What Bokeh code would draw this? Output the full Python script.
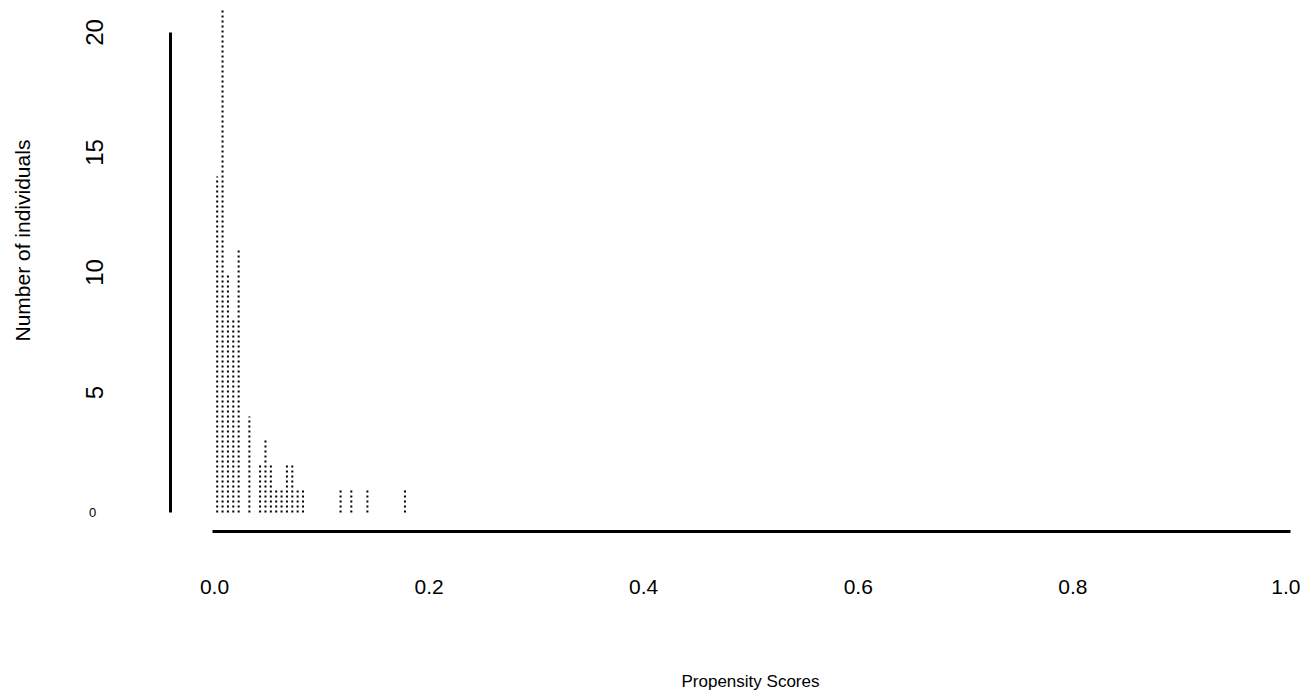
import math
from bokeh.plotting import figure
from bokeh.models import ColumnDataSource, FixedTicker, PrintfTickFormatter, Range1d, Title
from bokeh.core.properties import value
from bokeh.embed import file_html
from bokeh.resources import INLINE

# ---- data ----
bin_centers = [0.0025, 0.0075, 0.0125, 0.0175, 0.0225, 0.0325,
               0.0425, 0.0475, 0.0525, 0.0575, 0.0625, 0.0675, 0.0725, 0.0775, 0.0825,
               0.1175, 0.1275, 0.1425, 0.1775]
counts = [14, 21, 10, 8, 11, 4,
          2, 3, 2, 1, 1, 2, 2, 1, 1,
          1, 1, 1, 1]
x_ticks = [0.0, 0.2, 0.4, 0.6, 0.8, 1.0]
y_ticks = [5, 10, 15, 20]
y_zero = [0]
x_title = "Propensity  Scores"
y_title = "Number of individuals"

FONT = "Liberation Sans"

# layout constants (in data units of the plot frame)
Y_AXIS_X = -0.041        # where the detached y axis line sits
Y_LABEL_X = -0.1118      # centre of the rotated y tick labels
Y_ZERO_X = -0.1137       # centre of the small "0"
Y_TITLE_X = -0.1790      # centre of the y title
Y_TITLE_Y = 11.33

src = ColumnDataSource(dict(x=bin_centers, top=counts, base=[0] * len(counts)))

p = figure(width=1300, height=697,
           x_range=Range1d(-0.19944, 1.0028), y_range=Range1d(-0.7917, 21.333),
           output_backend="svg", toolbar_location=None,
           min_border_left=0, min_border_right=10, min_border_top=0, min_border_bottom=166)
p.outline_line_color = None
p.grid.visible = False
p.background_fill_color = "white"
p.border_fill_color = "white"
p.yaxis.visible = False

# dotted columns (histogram drawn as dotted vertical lines)
p.segment(x0="x", y0="base", x1="x", y1="top", source=src,
          line_color="black", line_width=2, line_dash="2 3")

# detached y axis line from 0 to the top tick
p.segment(x0=[Y_AXIS_X], y0=[min(y_zero)], x1=[Y_AXIS_X], y1=[max(y_ticks)],
          line_color="black", line_width=3)

# y tick labels (rotated) and the small horizontal zero
p.text(x=[Y_LABEL_X] * len(y_ticks), y=y_ticks, text=[str(t) for t in y_ticks],
       angle=math.pi / 2, text_align="center", text_baseline="middle",
       text_font=value(FONT), text_font_size="24px", text_color="black")
p.text(x=[Y_ZERO_X], y=y_zero, text=[str(t) for t in y_zero],
       text_align="center", text_baseline="middle",
       text_font=value(FONT), text_font_size="13px", text_color="black")

# y title
p.text(x=[Y_TITLE_X], y=[Y_TITLE_Y], text=[y_title], angle=math.pi / 2,
       text_align="center", text_baseline="middle",
       text_font=value(FONT), text_font_size="21px", text_color="black")

# x axis
xa = p.xaxis[0]
xa.ticker = FixedTicker(ticks=x_ticks)
xa.formatter = PrintfTickFormatter(format="%.1f")
xa.bounds = (-0.002, 1.0028)
xa.axis_line_width = 3
xa.axis_line_color = "black"
xa.major_tick_out = 0
xa.major_tick_in = 0
xa.minor_tick_out = 0
xa.minor_tick_in = 0
xa.major_label_standoff = 48
xa.major_label_text_font = FONT
xa.major_label_text_font_size = "21px"
xa.major_label_text_color = "black"

# empty spacer panel, then the x title below the axis
p.add_layout(Title(text=" ", standoff=52, text_font=FONT, text_font_size="17px"), "below")
p.add_layout(Title(text=x_title, align="left", offset=681, standoff=0,
                   text_font=FONT, text_font_size="17px",
                   text_font_style="normal", text_color="black"), "below")

open("out.html", "w").write(file_html(p, INLINE))
